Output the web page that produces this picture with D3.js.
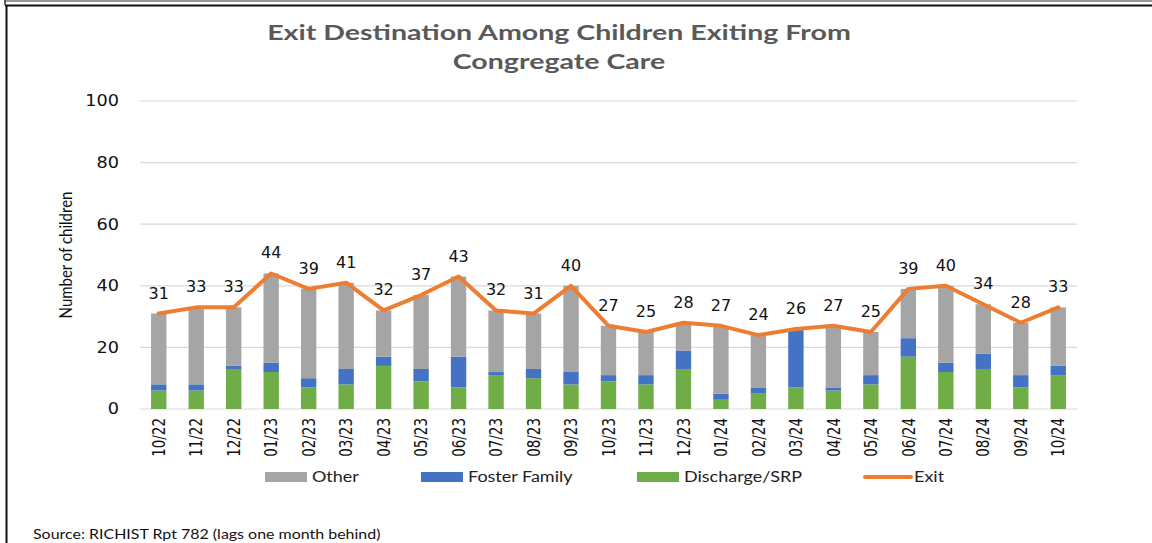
<!DOCTYPE html>
<html>
<head>
<meta charset="utf-8">
<script src="https://cdn.jsdelivr.net/npm/d3@7"></script>
<style>
  html, body { margin: 0; padding: 0; background: #fff; }
  svg { display: block; }
</style>
</head>
<body>
<svg id="chart" width="1152" height="543"></svg>
<script>
// Monthly exits from congregate care, split by destination
const months = ["10/22","11/22","12/22","01/23","02/23","03/23","04/23","05/23","06/23","07/23","08/23","09/23",
                "10/23","11/23","12/23","01/24","02/24","03/24","04/24","05/24","06/24","07/24","08/24","09/24","10/24"];
const discharge = [6,6,13,12,7,8,14,9,7,11,10,8,9,8,13,3,5,7,6,8,17,12,13,7,11];
const foster    = [2,2,1,3,3,5,3,4,10,1,3,4,2,3,6,2,2,19,1,3,6,3,5,4,3];
const other     = [23,25,19,29,29,28,15,24,26,20,18,28,16,14,9,22,17,0,20,14,16,25,16,17,19];
const exits     = [31,33,33,44,39,41,32,37,43,32,31,40,27,25,28,27,24,26,27,25,39,40,34,28,33];
const yTicks    = [0,20,40,60,80,100];

const colors = { other: "#A5A5A5", foster: "#4472C4", discharge: "#70AD47", exit: "#ED7D31" };

const svg = d3.select("#chart");

// Frame around the slide panel
svg.append("line").attr("x1", 5).attr("x2", 1152).attr("y1", 1).attr("y2", 1)
  .attr("stroke", "#777").attr("stroke-width", 1.5);
svg.append("line").attr("x1", 5).attr("x2", 1152).attr("y1", 5.5).attr("y2", 5.5)
  .attr("stroke", "#111").attr("stroke-width", 2);
svg.append("line").attr("x1", 5).attr("x2", 5).attr("y1", 0).attr("y2", 5)
  .attr("stroke", "#333").attr("stroke-width", 1.5);
svg.append("line").attr("x1", 6.5).attr("x2", 6.5).attr("y1", 5).attr("y2", 543)
  .attr("stroke", "#111").attr("stroke-width", 2);

const plot = { left: 140, right: 1077, top: 101, bottom: 409 };

const x = d3.scaleBand().domain(months)
  .range([plot.left, plot.right]).paddingInner(0.59).paddingOuter(0.295);
const y = d3.scaleLinear().domain([0, 100]).range([plot.bottom, plot.top]);

// Horizontal gridlines
svg.append("g").selectAll("line").data(yTicks).join("line")
  .attr("x1", plot.left).attr("x2", plot.right)
  .attr("y1", d => y(d)).attr("y2", d => y(d))
  .attr("stroke", "#D9D9D9").attr("stroke-width", 1.2);

// Y axis tick labels
const yAxis = d3.axisLeft(y).tickValues(yTicks).tickSize(0).tickPadding(0);
svg.append("g").attr("transform", `translate(${plot.left - 21},0)`).call(yAxis)
  .call(g => g.select(".domain").remove())
  .selectAll("text")
  .attr("font-family", "DejaVu Sans, Verdana, sans-serif")
  .attr("font-size", 15.5).attr("fill", "#111")
  .attr("transform", "scale(1.14,1)");

// Y axis title
svg.append("text")
  .attr("transform", "translate(72,255) rotate(-90) scale(1,1.2)")
  .attr("text-anchor", "middle")
  .attr("font-family", "Lato, sans-serif").attr("font-size", 15)
  .attr("fill", "#111")
  .text("Number of children");

// Stacked bars: discharge, foster family, other
const rows = months.map((m, i) => ({ m, discharge: discharge[i], foster: foster[i], other: other[i] }));
const keys = ["discharge", "foster", "other"];
const stacked = d3.stack().keys(keys)(rows);

svg.append("g").selectAll("g").data(stacked).join("g")
  .attr("fill", d => colors[d.key])
  .selectAll("rect").data(d => d).join("rect")
  .attr("x", d => x(d.data.m))
  .attr("width", x.bandwidth())
  .attr("y", d => y(d[1]))
  .attr("height", d => y(d[0]) - y(d[1]));

// X axis labels, rotated
const xAxis = d3.axisBottom(x).tickSize(0).tickPadding(0);
svg.append("g").attr("transform", `translate(0,${plot.bottom})`).call(xAxis)
  .call(g => g.select(".domain").remove())
  .selectAll("text")
  .attr("font-family", "DejaVu Sans, Verdana, sans-serif")
  .attr("font-size", 13.5).attr("fill", "#111")
  .attr("text-anchor", "end")
  .attr("dy", null).attr("y", 0)
  .attr("transform", "translate(0,9) rotate(-90) scale(1,1.3)")
  .attr("dominant-baseline", "central");

// Total exits line
const line = d3.line()
  .x((d, i) => x(months[i]) + x.bandwidth() / 2)
  .y(d => y(d));
svg.append("path").datum(exits)
  .attr("d", line)
  .attr("fill", "none")
  .attr("stroke", colors.exit)
  .attr("stroke-width", 4)
  .attr("stroke-linejoin", "round")
  .attr("stroke-linecap", "round");

// Value labels above the line
svg.append("g").selectAll("text").data(exits).join("text")
  .attr("x", (d, i) => x(months[i]) + x.bandwidth() / 2)
  .attr("y", d => y(d) - 15)
  .attr("text-anchor", "middle")
  .attr("font-family", "DejaVu Sans, Verdana, sans-serif")
  .attr("font-size", 16).attr("fill", "#111")
  .text(d => d);

// Title
const title = svg.append("text")
  .attr("text-anchor", "middle")
  .attr("font-family", "Lato, sans-serif").attr("font-weight", "bold")
  .attr("font-size", 21).attr("fill", "#595959");
title.append("tspan").attr("x", 0).attr("y", 0).text("Exit Destination Among Children Exiting From");
title.append("tspan").attr("x", 0).attr("y", 29).text("Congregate Care");
title.attr("transform", "translate(559,40) scale(1.36,1)");

// Legend
const legendItems = [
  { label: "Other", key: "other", type: "rect", x: 265 },
  { label: "Foster Family", key: "foster", type: "rect", x: 421 },
  { label: "Discharge/SRP", key: "discharge", type: "rect", x: 637 },
  { label: "Exit", key: "exit", type: "line", x: 865 }
];
const legend = svg.append("g").attr("transform", "translate(0,477)");
legendItems.forEach(it => {
  const g = legend.append("g").attr("transform", `translate(${it.x},0)`);
  if (it.type === "rect") {
    g.append("rect").attr("x", 0).attr("y", -5).attr("width", 42).attr("height", 10)
      .attr("fill", colors[it.key]);
  } else {
    g.append("line").attr("x1", 0).attr("x2", 46).attr("y1", 0).attr("y2", 0)
      .attr("stroke", colors[it.key]).attr("stroke-width", 4).attr("stroke-linecap", "round");
  }
  g.append("text")
    .attr("transform", `translate(${it.type === "rect" ? 47 : 49},5) scale(1.2,1)`)
    .attr("font-family", "Lato, sans-serif").attr("font-size", 15)
    .attr("fill", "#222")
    .text(it.label);
});

// Source note
svg.append("text")
  .attr("transform", "translate(33,539) scale(1.2,1)")
  .attr("font-family", "Lato, sans-serif").attr("font-size", 13.3)
  .attr("fill", "#111")
  .text("Source: RICHIST Rpt 782 (lags one month  behind)");
</script>
</body>
</html>
